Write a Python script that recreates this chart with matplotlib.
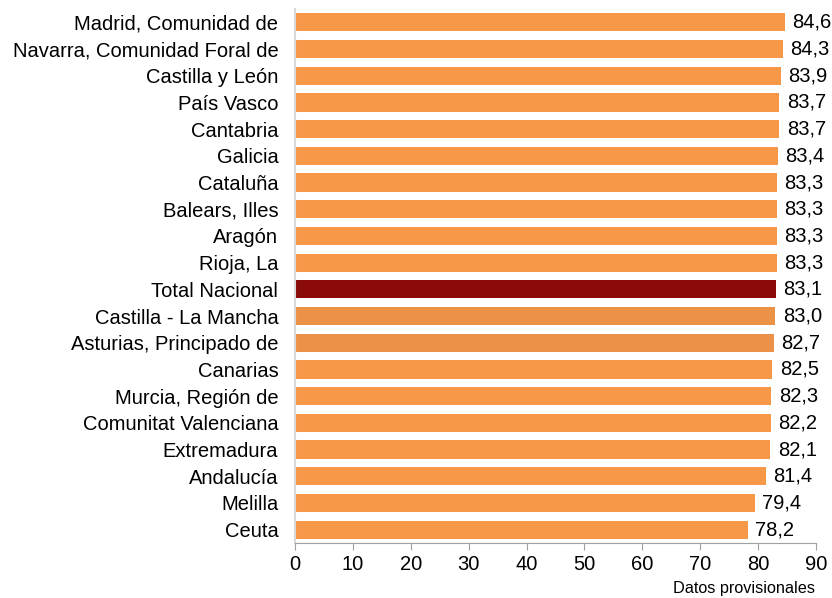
import numpy as np
import matplotlib
matplotlib.use("Agg")
import matplotlib.pyplot as plt

plt.rcParams['font.family'] = ['Liberation Sans', 'DejaVu Sans']

regions = ["Madrid, Comunidad de", "Navarra, Comunidad Foral de", "Castilla y León",
           "País Vasco", "Cantabria", "Galicia", "Cataluña", "Balears, Illes",
           "Aragón", "Rioja, La", "Total Nacional", "Castilla - La Mancha",
           "Asturias, Principado de", "Canarias", "Murcia, Región de",
           "Comunitat Valenciana", "Extremadura", "Andalucía", "Melilla", "Ceuta"]
values = [84.6, 84.3, 83.9, 83.7, 83.7, 83.4, 83.3, 83.3, 83.3, 83.3, 83.1,
          83.0, 82.7, 82.5, 82.3, 82.2, 82.1, 81.4, 79.4, 78.2]

colors = []
for r in regions:
    if r == "Total Nacional":
        colors.append("#8B0A0A")
    elif r in ("Castilla - La Mancha", "Asturias, Principado de"):
        colors.append("#EC9248")
    else:
        colors.append("#F79748")

fig = plt.figure(figsize=(8.32, 5.98), dpi=100)
ax = fig.add_axes([0.3546, 0.092, 0.626, 0.893])

y = np.arange(len(regions))
ax.barh(y, values, height=0.68, color=colors, edgecolor="none")
ax.set_ylim(len(regions) - 0.5, -0.5)
ax.set_xlim(0, 90)
ax.set_yticks(y)
ax.set_yticklabels(regions, fontsize=14.5)
ax.set_xticks(np.arange(0, 91, 10))
ax.tick_params(axis='x', labelsize=14.5, direction='out', length=5, color='#A0A0A0', pad=4)
ax.tick_params(axis='y', length=0, pad=12)

for yi, v in zip(y, values):
    ax.text(v + 1.3, yi, f"{v:.1f}".replace(".", ","), va='center', ha='left', fontsize=14.5)

for s in ['top', 'right']:
    ax.spines[s].set_visible(False)
ax.spines['left'].set_color('#D9D9D9')
ax.spines['left'].set_linewidth(1.5)
ax.spines['bottom'].set_color('#A0A0A0')

fig.text(0.979, 0.004, "Datos provisionales", ha='right', va='bottom', fontsize=11.7)

fig.savefig("out.png", dpi=100)
